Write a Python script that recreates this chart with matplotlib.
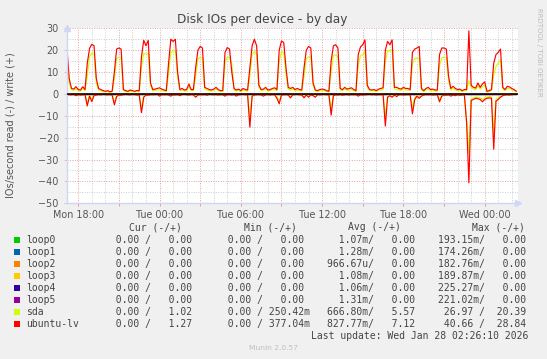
import numpy as np
import pandas as pd
import matplotlib
matplotlib.use('Agg')
import matplotlib.pyplot as plt
import matplotlib.dates as mdates
from matplotlib.patches import Rectangle
from matplotlib.ticker import MultipleLocator, FuncFormatter

W, H = 547, 359

# 10 minute samples, Mon 26 Jan 17:10 -> Wed 28 Jan 02:20
times = pd.date_range('2026-01-26 17:10', periods=200, freq='10min')

# IOs/second, write (+)
lv_write = [21, 7, 2.5, 2.2, 3.3, 2, 1.8, 3.3, 2, 14, 20.8, 22.7,
            22, 7, 2.5, 2, 1.5, 1.2, 1.5, 1, 1.2, 10, 20.5, 21,
            20.5, 2, 1.5, 1.2, 1.8, 1.5, 1.2, 1.6, 1.4, 17, 24.5, 22,
            24.5, 5, 2, 2.2, 2.5, 2.8, 2.2, 1.8, 1.5, 14, 25, 24,
            25, 10, 2, 2.5, 1.8, 2, 4.5, 2, 2, 12, 20, 21.7,
            21, 3, 2.5, 2, 1.8, 2.2, 3, 2, 1.5, 1.5, 19, 21.2,
            20.5, 10, 2.5, 1.8, 2.2, 1.5, 2.5, 2, 1.8, 12, 22, 25,
            22, 4, 2, 2.2, 3, 1.8, 2, 2.5, 2.8, 2, 20, 24.2,
            23.5, 12, 3, 2.5, 3, 2, 2.5, 2, 1.8, 12, 20, 21.7,
            21, 5, 1.8, 1.5, 2, 2.2, 2, 1.5, 1.2, 15, 22, 22.5,
            21, 2.5, 2, 3, 2.2, 2.5, 2.8, 2, 1.5, 18, 21.5, 22.5,
            24.7, 4, 2, 1.8, 2, 1.5, 2.2, 2.5, 2.8, 20, 24, 22.5,
            24.7, 3, 3, 2.5, 2.2, 3, 2.5, 2.5, 2, 19, 20.5, 21,
            21.7, 2.5, 1.5, 2.5, 3, 2, 2.2, 1.8, 1.8, 18, 21, 21,
            20.5, 8, 2.5, 3.5, 2.5, 2, 2.2, 1.5, 2, 2, 28.84, 4,
            3, 2.7, 5, 3, 4.5, 5.5, 1.2, 1.5, 2, 14, 18, 19,
            20.5, 3, 2, 3.5, 3.2, 2.5, 2, 1.27]

sda_write = [17, 5, 1.8, 1.6, 2.5, 1.5, 1.3, 2.5, 1.5, 8, 17, 18.6,
             18, 5, 1.8, 1.5, 1.1, 0.9, 1.1, 0.8, 0.9, 7, 16, 16.8,
             16.5, 1.5, 1.1, 0.9, 1.3, 1.1, 0.9, 1.2, 1, 12, 18.6, 18,
             18.6, 4, 1.5, 1.6, 1.8, 2, 1.6, 1.3, 1.1, 9, 19, 20,
             19.5, 8, 1.5, 1.8, 1.3, 1.5, 3.2, 1.5, 1.5, 8, 16, 16.7,
             16.5, 2.2, 1.8, 1.5, 1.3, 1.6, 2.2, 1.5, 1.1, 1.1, 14, 17,
             16.5, 14, 1.8, 1.3, 1.6, 1.1, 1.8, 1.5, 1.3, 8, 18, 19.4,
             18, 3, 1.5, 1.6, 2.2, 1.3, 1.5, 1.8, 2, 1.5, 15, 19.4,
             19, 9, 2.2, 1.8, 2.2, 1.5, 1.8, 1.5, 1.3, 8, 16, 17,
             16.8, 4, 1.3, 1.1, 1.5, 1.6, 1.5, 1.1, 0.9, 10, 17.5, 17.9,
             17, 1.8, 1.5, 2.2, 1.6, 1.8, 2, 1.5, 1.1, 13, 17.5, 18,
             19.4, 3, 1.5, 1.3, 1.5, 1.1, 1.6, 1.8, 2, 15, 20, 19.5,
             20.39, 2.2, 2.2, 1.8, 1.6, 2.2, 1.8, 1.8, 1.5, 14, 16, 16.4,
             16.4, 1.8, 1.1, 1.8, 2.2, 1.5, 1.6, 1.3, 1.3, 13, 16.5, 16.8,
             16.5, 6, 1.8, 2.5, 1.8, 1.5, 1.6, 1.1, 1.5, 1.5, 6, 3,
             2.2, 2, 3.8, 2.2, 3.3, 4, 0.9, 1.1, 1.5, 9, 12.6, 14,
             15.6, 2.2, 1.5, 2.6, 2.4, 1.8, 1.5, 1.02]

# IOs/second, read (-), stored as magnitudes
lv_read = [0.5, 0.3, 0.4, 0.2, 0.8, 0.3, 0.5, 0.4, 0.3, 5.5, 1.0, 3.5,
           0.8, 0.5, 0.3, 0.4, 0.2, 0.3, 0.4, 0.3, 0.5, 5, 1.2, 0.5,
           0.6, 0.3, 0.2, 0.3, 0.4, 0.2, 0.3, 0.5, 0.4, 8.6, 1.5, 0.5,
           0.6, 0.3, 0.4, 0.3, 0.2, 1.0, 0.3, 0.4, 0.3, 0.5, 1.0, 0.4,
           0.5, 0.3, 0.8, 0.3, 0.2, 0.4, 0.5, 0.3, 0.4, 1.5, 0.5, 0.3,
           0.4, 0.3, 0.6, 0.2, 0.3, 0.4, 0.3, 0.5, 0.3, 0.4, 1.0, 0.3,
           0.4, 0.5, 0.3, 1.0, 0.4, 0.3, 0.2, 0.4, 0.3, 15.2, 1.0, 0.5,
           0.4, 0.3, 0.5, 1.0, 0.4, 0.3, 0.5, 0.3, 0.4, 2, 4.5, 0.5,
           0.4, 0.3, 0.5, 1.8, 0.4, 0.3, 0.2, 0.4, 0.5, 1.8, 0.5, 1.5,
           0.4, 0.8, 1.5, 0.3, 0.4, 0.3, 0.2, 0.4, 0.3, 9.7, 0.8, 0.4,
           0.5, 0.3, 0.6, 0.4, 0.3, 0.5, 0.3, 0.4, 0.3, 1.0, 0.4, 0.5,
           0.4, 0.3, 0.2, 0.4, 0.3, 0.5, 0.3, 0.4, 0.3, 14.7, 1.5, 0.8,
           1.5, 0.5, 1.2, 0.4, 0.3, 0.5, 0.4, 0.3, 0.4, 9.1, 2.6, 1.0,
           2.0, 1.0, 0.5, 0.3, 0.4, 0.3, 0.5, 0.4, 0.3, 3.6, 1.0, 0.5,
           0.6, 0.4, 1.0, 0.5, 0.8, 0.4, 0.6, 0.5, 0.4, 13.2, 40.66, 3,
           2.5, 2, 2.2, 2.5, 3.6, 2.5, 2, 1.8, 2, 25.3, 3.3, 2.5,
           1.5, 0.8, 0.5, 0.4, 0.5, 0.3, 0.2, 0]

sda_read = [0.3, 0.2, 0.3, 0.1, 0.5, 0.2, 0.3, 0.3, 0.2, 4, 0.7, 2.5,
            0.5, 0.3, 0.2, 0.3, 0.1, 0.2, 0.3, 0.2, 0.3, 3.8, 0.8, 0.3,
            0.4, 0.2, 0.1, 0.2, 0.3, 0.1, 0.2, 0.3, 0.3, 6.5, 1, 0.3,
            0.4, 0.2, 0.3, 0.2, 0.1, 0.7, 0.2, 0.3, 0.2, 0.3, 0.7, 0.3,
            0.3, 0.2, 0.5, 0.2, 0.1, 0.3, 0.3, 0.2, 0.3, 1, 0.3, 0.2,
            0.3, 0.2, 0.4, 0.1, 0.2, 0.3, 0.2, 0.3, 0.2, 0.3, 0.7, 0.2,
            0.3, 0.3, 0.2, 0.7, 0.3, 0.2, 0.1, 0.3, 0.2, 11, 0.7, 0.3,
            0.3, 0.2, 0.3, 0.7, 0.3, 0.2, 0.3, 0.2, 0.3, 1.4, 3.2, 0.3,
            0.3, 0.2, 0.3, 1.2, 0.3, 0.2, 0.1, 0.3, 0.3, 1.2, 0.3, 1,
            0.3, 0.5, 1, 0.2, 0.3, 0.2, 0.1, 0.3, 0.2, 7, 0.5, 0.3,
            0.3, 0.2, 0.4, 0.3, 0.2, 0.3, 0.2, 0.3, 0.2, 0.7, 0.3, 0.3,
            0.3, 0.2, 0.1, 0.3, 0.2, 0.3, 0.2, 0.3, 0.2, 10.5, 1, 0.5,
            1, 0.3, 0.8, 0.3, 0.2, 0.3, 0.3, 0.2, 0.3, 6.5, 1.8, 0.7,
            1.4, 0.7, 0.3, 0.2, 0.3, 0.2, 0.3, 0.3, 0.2, 2.5, 0.7, 0.3,
            0.4, 0.3, 0.7, 0.3, 0.5, 0.3, 0.4, 0.3, 0.3, 12.6, 26.97, 2.2,
            1.8, 1.4, 1.5, 1.8, 2.5, 1.8, 1.4, 1.2, 1.4, 18, 2.3, 1.8,
            1, 0.5, 0.3, 0.3, 0.3, 0.2, 0.1, 0]

devices = ['loop0', 'loop1', 'loop2', 'loop3', 'loop4', 'loop5', 'sda', 'ubuntu-lv']
colors = ['#00CC00', '#0066B3', '#FF8000', '#FFCC00', '#330099', '#990099', '#CCFF00', '#FF0000']

cur_read = ['0.00'] * 8
cur_write = ['0.00', '0.00', '0.00', '0.00', '0.00', '0.00', '1.02', '1.27']
min_read = ['0.00'] * 8
min_write = ['0.00', '0.00', '0.00', '0.00', '0.00', '0.00', '250.42m', '377.04m']
avg_read = ['1.07m', '1.28m', '966.67u', '1.08m', '1.06m', '1.31m', '666.80m', '827.77m']
avg_write = ['0.00', '0.00', '0.00', '0.00', '0.00', '0.00', '5.57', '7.12']
max_read = ['193.15m', '174.26m', '182.76m', '189.87m', '225.27m', '221.02m', '26.97', '40.66']
max_write = ['0.00', '0.00', '0.00', '0.00', '0.00', '0.00', '20.39', '28.84']

series = {'sda': (sda_read, sda_write), 'ubuntu-lv': (lv_read, lv_write)}


def fx(px):
    return px / W


def fy(py):
    return 1 - py / H


def fmt(v):
    # rrdtool prints a blank where there is no SI prefix
    v = v if v[-1].isalpha() else v + ' '
    return v.rjust(7)


fig = plt.figure(figsize=(W / 100, H / 100), dpi=100, facecolor='#F0F0F0')
ax = fig.add_axes([fx(66.5), fy(203.3), fx(518 - 66.5), (203.3 - 28.3) / H])
ax.set_facecolor('white')

for dev, col in zip(devices, colors):
    if dev in series:
        rd, wr = series[dev]
        ax.plot(times, -np.array(rd), color=col, lw=0.85)
        ax.plot(times, wr, color=col, lw=0.85)
    else:
        ax.plot(times, [0.0] * len(times), color=col, lw=0.85)
ax.axhline(0, color='black', lw=1.1, zorder=5)

ax.set_ylim(-50, 30)
ax.set_xlim(pd.Timestamp('2026-01-26 17:08'), pd.Timestamp('2026-01-28 02:27:30'))
ax.yaxis.set_major_locator(MultipleLocator(10))
ax.yaxis.set_minor_locator(MultipleLocator(5))
ax.xaxis.set_major_locator(mdates.HourLocator(byhour=range(0, 24, 3)))
ax.xaxis.set_minor_locator(mdates.HourLocator())


def xlab(x, pos):
    d = mdates.num2date(x)
    return d.strftime('%a %H:%M') if d.hour % 6 == 0 else ''


ax.xaxis.set_major_formatter(FuncFormatter(xlab))
ax.grid(which='major', color='#E8A0A0', linestyle=(0, (1, 1.5)), lw=0.7)
ax.grid(which='minor', color='#CCCCCC', linestyle=(0, (1, 1.5)), lw=0.7)
ax.set_axisbelow(True)

for s in ['top', 'right']:
    ax.spines[s].set_visible(False)
for s in ['left', 'bottom']:
    ax.spines[s].set_color('#CFD6F8')
    ax.spines[s].set_linewidth(1.0)

ax.tick_params(which='major', axis='x', length=2, color='#E8A0A0', pad=3,
               labelsize=6.9, labelcolor='#555555')
ax.tick_params(which='major', axis='y', length=2, color='#CCCCCC', pad=3.5,
               labelsize=6.9, labelcolor='#555555')
ax.tick_params(which='minor', length=0)

# axis arrows
ax.plot([0], [1.0], transform=ax.transAxes, marker='^', ms=4, color='#CFD6F8',
        clip_on=False)
ax.plot([1.0], [0], transform=ax.transAxes, marker='>', ms=4, color='#CFD6F8',
        clip_on=False)

fig.text(fx(262), fy(19.5), 'Disk IOs per device - by day', ha='center', va='center',
         fontsize=8.7, color='#444444')
fig.text(fx(11), fy(125), 'IOs/second read (-) / write (+)', rotation=90,
         ha='center', va='center', fontsize=7, color='#555555')
fig.text(fx(539), fy(52), 'RRDTOOL / TOBI OETIKER', rotation=270, ha='center',
         va='center', fontsize=5, color='#BBBBBB')

mono = dict(family='DejaVu Sans Mono', fontsize=7, color='#444444', va='center')
for hdr, hx in zip(['Cur (-/+)', 'Min (-/+)', 'Avg (-/+)', 'Max (-/+)'],
                   [129.3, 244, 349, 472.7]):
    fig.text(fx(hx - 0.5), fy(227.5), hdr, **mono)

col_x = [103.5, 215.5, 326.8, 438.5]
for i, dev in enumerate(devices):
    yc = 240 + 12 * i
    fig.add_artist(Rectangle((fx(14), fy(yc + 3)), 6 / W, 6 / H, transform=fig.transFigure,
                             facecolor=colors[i], edgecolor='none'))
    fig.text(fx(26), fy(yc), dev, **mono)
    cols = [(cur_read, cur_write), (min_read, min_write),
            (avg_read, avg_write), (max_read, max_write)]
    for (rl, wl), cx in zip(cols, col_x):
        fig.text(fx(cx), fy(yc), fmt(rl[i]) + '/ ' + fmt(wl[i]), **mono)

fig.text(fx(311), fy(335.7), 'Last update: Wed Jan 28 02:26:10 2026', **mono)
fig.text(fx(273), fy(348.5), 'Munin 2.0.57', ha='center', va='center', fontsize=5.4,
         color='#C0C0C0')

fig.savefig('out.png', dpi=100, facecolor=fig.get_facecolor())
